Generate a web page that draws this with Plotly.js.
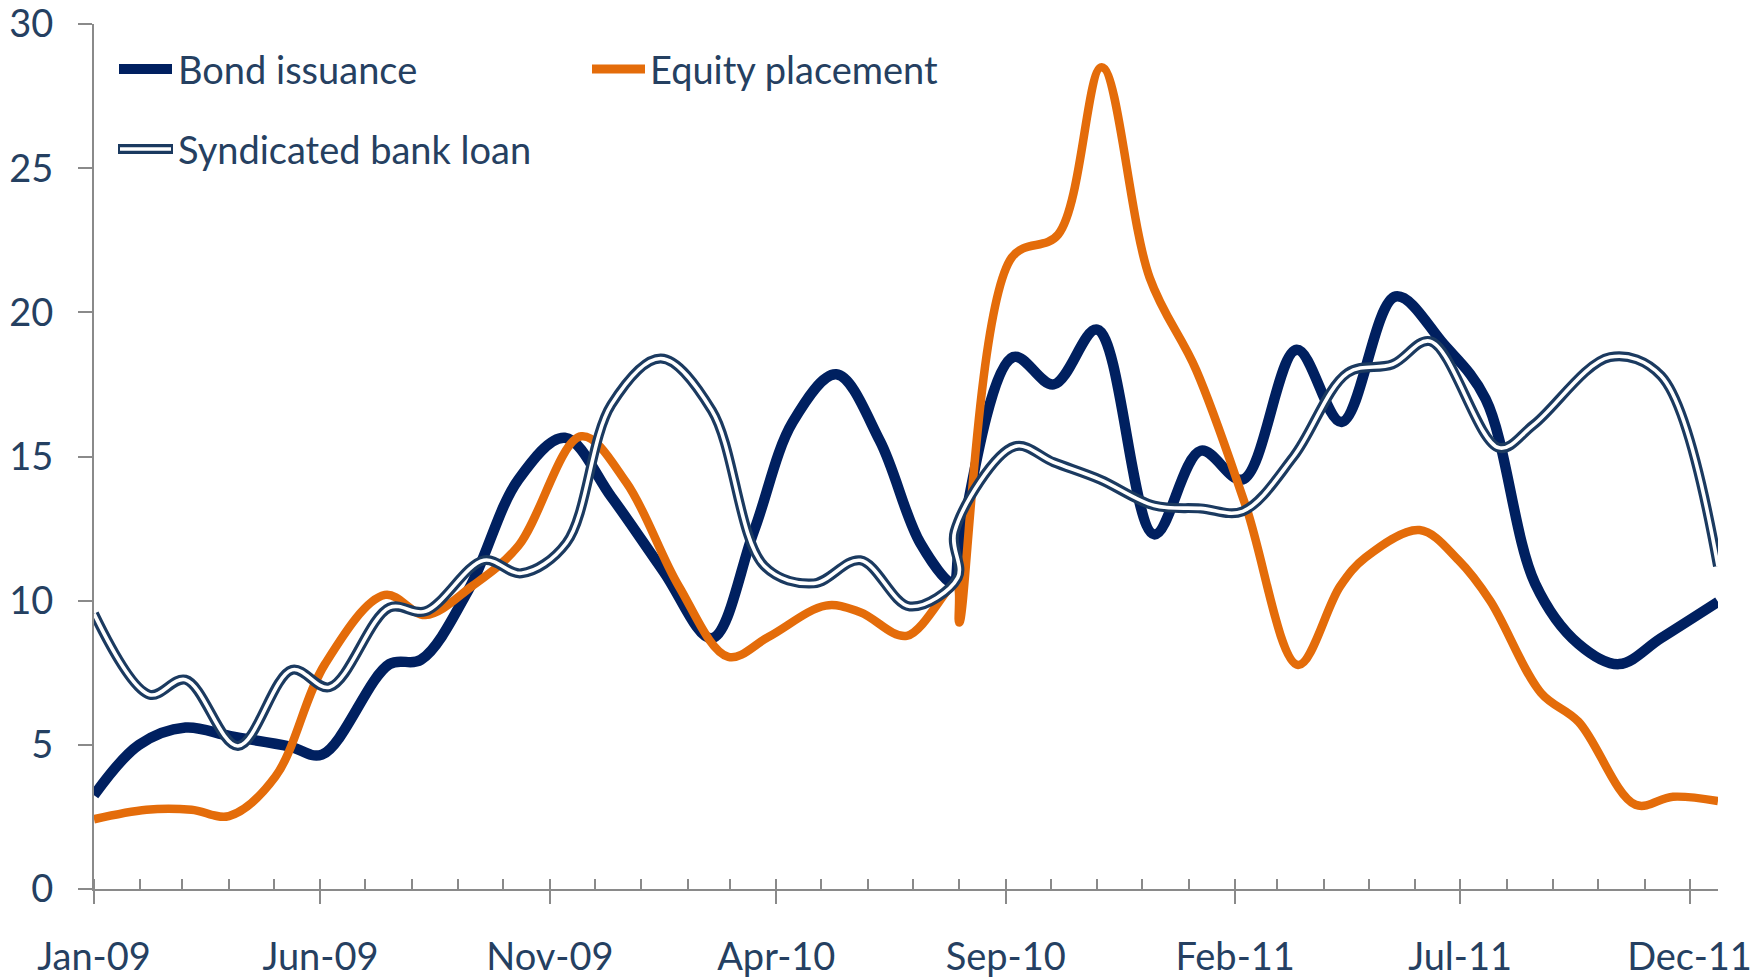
<!DOCTYPE html>
<html>
<head>
<meta charset="utf-8">
<script src="https://cdn.plot.ly/plotly-3.0.1.min.js"></script>
<style>
  html, body { margin: 0; padding: 0; background: #ffffff; }
  #chart { width: 1764px; height: 977px; }
</style>
</head>
<body>
<div id="chart"></div>
<script>
// ---- Data ----
const seriesNames = ['Bond issuance', 'Equity placement', 'Syndicated bank loan'];

const bondDates = ['2009-01-01','2009-01-31','2009-03-03','2009-04-02','2009-05-11','2009-06-02','2009-07-17','2009-08-07','2009-09-08','2009-10-11','2009-11-11','2009-12-12',
  '2010-01-16','2010-02-17','2010-03-17','2010-04-12','2010-05-11','2010-06-09','2010-07-06','2010-07-28','2010-08-01','2010-09-06','2010-10-03','2010-11-01','2010-12-09',
  '2011-01-09','2011-02-06','2011-03-14','2011-04-13','2011-05-19','2011-06-20','2011-07-18','2011-08-20','2011-09-18','2011-10-15','2011-11-12','2011-12-20'];
const bondValues = [3.25,5.0,5.6,5.3,4.95,4.66,7.8,7.95,10.4,14.2,15.65,13.6,
  11.0,8.7,12.4,16.2,17.85,15.55,12.0,10.6,11.8,18.45,17.5,19.4,12.3,
  15.2,14.2,18.7,16.2,20.55,18.9,17.0,10.6,8.5,7.8,8.7,9.96];

const equityDates = ['2009-01-01','2009-02-05','2009-03-07','2009-04-01','2009-05-02','2009-06-04','2009-07-14','2009-08-10','2009-09-10','2009-10-11','2009-11-22','2009-12-22',
  '2010-01-26','2010-02-28','2010-03-27','2010-05-04','2010-05-27','2010-06-27','2010-07-30','2010-08-01','2010-09-05','2010-10-06','2010-11-04','2010-12-06',
  '2011-01-06','2011-02-08','2011-03-15','2011-04-12','2011-04-29','2011-06-04','2011-06-30','2011-07-21','2011-08-24','2011-09-18','2011-10-26','2011-11-20','2011-12-20'];
const equityValues = [2.42,2.75,2.75,2.53,3.9,7.8,10.2,9.5,10.5,11.9,15.7,14.1,
  10.5,8.05,8.75,9.83,9.6,8.78,10.6,9.24,21.9,22.7,28.5,21.2,
  18.0,13.3,7.77,10.5,11.5,12.45,11.4,10.0,6.8,5.8,2.92,3.2,3.05];

const loanDates = ['2009-01-01','2009-02-07','2009-03-03','2009-04-07','2009-05-13','2009-06-07','2009-07-17','2009-08-10','2009-09-18','2009-10-13','2009-11-12','2009-12-12',
  '2010-01-14','2010-02-17','2010-03-24','2010-04-26','2010-05-27','2010-06-29','2010-07-31','2010-07-29','2010-09-07','2010-10-03','2010-11-03','2010-12-09',
  '2011-01-09','2011-02-06','2011-03-12','2011-04-17','2011-05-17','2011-06-11','2011-07-27','2011-08-19','2011-10-09','2011-11-12','2011-12-20'];
const loanValues = [9.55,6.74,7.26,4.96,7.6,7.0,9.76,9.63,11.4,10.95,12.0,16.8,
  18.4,16.6,11.2,10.6,11.4,9.8,10.8,12.4,15.35,14.8,14.2,13.3,
  13.2,13.1,15.0,17.9,18.2,19.0,15.3,16.1,18.45,17.8,11.2];

const xRange = ['2009-01-01', '2011-12-20'];
const yTicks = [0, 5, 10, 15, 20, 25, 30];
const yTickText = ['0', '5', '10', '15', '20', '25', '30'];

// ---- Styles ----
const colBond = '#002060';
const colEquity = '#E46C0A';
const colLoan = '#1b3a60';
const colText = '#254061';
const colAxis = '#8a8a8a';
const FONT = 'Lato, "Open Sans", sans-serif';

const W = 1764, H = 977;
const M = { l: 94, r: 46, t: 24, b: 88 };
const pw = W - M.l - M.r, ph = H - M.t - M.b;
const px = v => (v - M.l) / pw;
const py = v => (H - M.b - v) / ph;

const traces = [
  { x: bondDates, y: bondValues, name: seriesNames[0], type: 'scatter', mode: 'lines',
    line: { color: colBond, width: 10.5, shape: 'spline', smoothing: 1, simplify: false }, showlegend: false },
  { x: equityDates, y: equityValues, name: seriesNames[1], type: 'scatter', mode: 'lines',
    line: { color: colEquity, width: 8.5, shape: 'spline', smoothing: 1, simplify: false }, showlegend: false },
  { x: loanDates, y: loanValues, name: seriesNames[2], type: 'scatter', mode: 'lines',
    line: { color: colLoan, width: 10, shape: 'spline', smoothing: 1, simplify: false }, showlegend: false },
  { x: loanDates, y: loanValues, name: seriesNames[2] + ' (inner)', type: 'scatter', mode: 'lines',
    line: { color: '#ffffff', width: 3.6, shape: 'spline', smoothing: 1, simplify: false }, showlegend: false }
];

// custom legend (decorations in paper coordinates)
const shapes = [
  { type: 'line', xref: 'paper', yref: 'paper', x0: px(119), x1: px(172), y0: py(69), y1: py(69), line: { color: colBond, width: 10 } },
  { type: 'line', xref: 'paper', yref: 'paper', x0: px(592), x1: px(645), y0: py(69), y1: py(69), line: { color: colEquity, width: 9 } },
  { type: 'line', xref: 'paper', yref: 'paper', x0: px(118), x1: px(173), y0: py(149), y1: py(149), line: { color: colLoan, width: 10 } },
  { type: 'line', xref: 'paper', yref: 'paper', x0: px(120), x1: px(171), y0: py(149), y1: py(149), line: { color: '#ffffff', width: 3.6 } }
];
const annotations = [
  { text: seriesNames[0], x: px(176), y: py(69), xref: 'paper', yref: 'paper', xanchor: 'left', yanchor: 'middle', showarrow: false, font: { family: FONT, size: 38, color: colText } },
  { text: seriesNames[1], x: px(648), y: py(69), xref: 'paper', yref: 'paper', xanchor: 'left', yanchor: 'middle', showarrow: false, font: { family: FONT, size: 38, color: colText } },
  { text: seriesNames[2], x: px(176), y: py(149), xref: 'paper', yref: 'paper', xanchor: 'left', yanchor: 'middle', showarrow: false, font: { family: FONT, size: 38, color: colText } }
];

const layout = {
  width: W, height: H,
  margin: M,
  paper_bgcolor: '#ffffff', plot_bgcolor: '#ffffff',
  font: { family: FONT, size: 38, color: colText },
  showlegend: false,
  xaxis: {
    type: 'date', range: xRange, showgrid: false, zeroline: false,
    showline: true, linecolor: colAxis, linewidth: 2,
    ticks: 'outside', ticklen: 13, tickwidth: 2, tickcolor: colAxis,
    tick0: '2009-01-01', dtick: 'M5', tickformat: '%b-%y',
    ticklabelstandoff: 20, ticklabeloverflow: 'allow',
    minor: { ticks: 'inside', ticklen: 10, tickwidth: 2, tickcolor: colAxis, dtick: 'M1', tick0: '2009-01-01', showgrid: false },
    tickfont: { family: FONT, size: 38, color: colText }
  },
  xaxis2: {
    type: 'date', range: xRange, overlaying: 'x', anchor: 'y', side: 'bottom',
    showgrid: false, zeroline: false, showline: false, showticklabels: false,
    ticks: 'inside', ticklen: 10, tickwidth: 2, tickcolor: colAxis,
    tick0: '2009-01-01', dtick: 'M5'
  },
  yaxis: {
    range: [0, 30.001], tickmode: 'array', tickvals: yTicks, ticktext: yTickText,
    showgrid: false, zeroline: false,
    showline: true, linecolor: colAxis, linewidth: 2,
    ticks: 'outside', ticklen: 14, tickwidth: 2, tickcolor: colAxis,
    ticklabelstandoff: 17, ticklabeloverflow: 'allow',
    tickfont: { family: FONT, size: 38, color: colText }
  },
  shapes: shapes,
  annotations: annotations
};

Plotly.newPlot('chart', traces, layout, { staticPlot: true, displayModeBar: false });
</script>
</body>
</html>
